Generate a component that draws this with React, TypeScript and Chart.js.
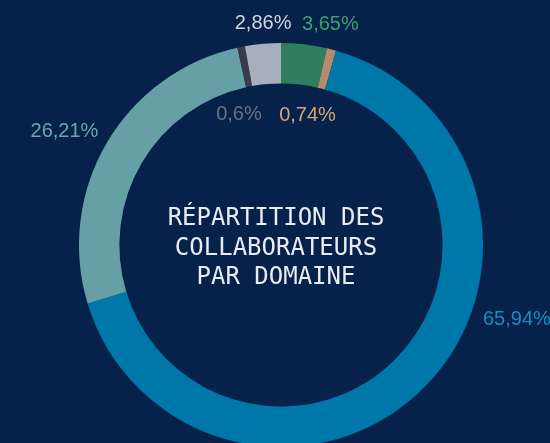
import React, { useEffect, useRef } from "react";
import { Chart, registerables } from "chart.js";

Chart.register(...registerables);

const categories = ["Vert", "Beige", "Bleu", "Turquoise", "Ardoise", "Gris"];
const shares = [3.65, 0.74, 65.94, 26.21, 0.6, 2.86];
const shareLabels = ["3,65%", "0,74%", "65,94%", "26,21%", "0,6%", "2,86%"];
const titleLines = ["RÉPARTITION DES", "COLLABORATEURS", "PAR DOMAINE"];

const segmentColors = ["#2f7e5e", "#b38d6b", "#0077a9", "#66a0a6", "#363d4a", "#a8afbc"];
const labelColors = ["#3aa06e", "#d2a870", "#188cc4", "#69a7ac", "#6b7282", "#d0d5de"];
// label placement: radius from centre, then pixel nudge
const labelPlacement = [
  { r: 222, dx: 24, dy: 0 },
  { r: 134, dx: -7, dy: 0 },
  { r: 248, dx: 59, dy: -99 },
  { r: 244, dx: -6, dy: 10 },
  { r: 137, dx: -15, dy: 4 },
  { r: 222, dx: 2, dy: 0 },
];

const BG = "#06214a";

const labelPlugin = {
  id: "labelPlugin",
  afterDraw(chart: any) {
    const ctx = chart.ctx;
    const meta = chart.getDatasetMeta(0);
    ctx.save();
    ctx.textAlign = "center";
    ctx.textBaseline = "middle";
    ctx.font = "20px 'Liberation Sans', Arial, sans-serif";
    meta.data.forEach((arc: any, i: number) => {
      const { x, y, startAngle, endAngle } = arc.getProps(["x", "y", "startAngle", "endAngle"], true);
      const mid = (startAngle + endAngle) / 2;
      const p = labelPlacement[i];
      const lx = x + Math.cos(mid) * p.r + p.dx;
      const ly = y + Math.sin(mid) * p.r + p.dy;
      ctx.fillStyle = labelColors[i];
      ctx.fillText(shareLabels[i], lx, ly);
    });
    const c = meta.data[0];
    const cx = c.x - 5;
    const cy = c.y + 3.5;
    ctx.font = "24px 'DejaVu Sans Mono', monospace";
    ctx.fillStyle = "#e8ecf3";
    const lh = 29.5;
    titleLines.forEach((t, i) => {
      ctx.fillText(t, cx, cy + (i - (titleLines.length - 1) / 2) * lh);
    });
    ctx.restore();
  },
};

export default function App() {
  const ref = useRef<HTMLCanvasElement | null>(null);
  useEffect(() => {
    if (!ref.current) return;
    const chart = new Chart(ref.current, {
      type: "doughnut",
      data: {
        labels: categories,
        datasets: [
          {
            data: shares,
            backgroundColor: segmentColors,
            borderWidth: 0,
          },
        ],
      },
      options: {
        responsive: false,
        animation: false,
        cutout: "80%",
        layout: { padding: { left: 79, right: 67, top: 43, bottom: 13 } },
        plugins: {
          legend: { display: false },
          tooltip: { enabled: false },
        },
      },
      plugins: [labelPlugin],
    });
    return () => chart.destroy();
  }, []);
  return (
    <div
      style={{
        position: "fixed",
        left: 0,
        top: 0,
        width: 550,
        height: 443,
        overflow: "hidden",
        background: BG,
      }}
    >
      <canvas ref={ref} width={550} height={460} style={{ position: "absolute", left: 0, top: 0 }} />
    </div>
  );
}
